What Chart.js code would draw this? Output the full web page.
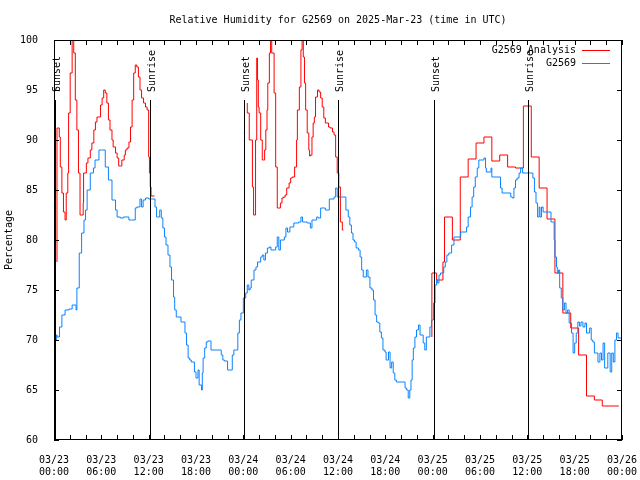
<!DOCTYPE html>
<html>
<head>
<meta charset="utf-8">
<script src="https://cdn.jsdelivr.net/npm/chart.js@4.4.1/dist/chart.umd.min.js"></script>
<style>
  html, body { margin: 0; padding: 0; background: #fff; }
  #wrap { width: 640px; height: 480px; }
</style>
</head>
<body>
<div id="wrap"><canvas id="rh-chart" width="640" height="480"></canvas></div>
<script>
// hours since 2025-03-23 00:00 UTC
const blueHours = [0.1, 0.3, 0.4, 0.7, 1.0, 1.4, 1.9, 2.3, 2.5, 2.8, 2.9, 3.2, 3.5, 3.8, 4.0, 4.2, 4.6, 5.0, 5.2, 5.7,
    6.0, 6.5, 6.9, 7.35, 7.8, 8.0, 8.4, 8.8, 9.5, 9.8, 10.3, 10.5, 10.9, 11.1, 11.3, 11.6, 12.0, 12.8, 13.0, 13.4,
    13.6, 13.8, 14.0, 14.2, 14.45, 14.7, 14.9, 15.15, 15.3, 15.5, 16.1, 16.6, 16.8, 17.0, 17.2, 17.4, 17.8, 18.0, 18.25, 18.4,
    18.7, 18.8, 18.9, 19.1, 19.3, 19.5, 19.9, 20.3, 21.2, 21.4, 21.6, 22.0, 22.3, 22.6, 22.8, 23.0, 23.3, 23.5, 23.7, 24.0,
    24.3, 24.5, 24.7, 24.85, 25.0, 25.35, 25.6, 25.8, 26.2, 26.4, 26.6, 26.8, 27.05, 27.3, 27.5, 28.1, 28.3, 28.5, 28.7, 29.2,
    29.4, 29.6, 29.9, 30.4, 31.0, 31.3, 31.5, 32.1, 32.5, 32.7, 33.3, 33.5, 33.8, 34.4, 34.9, 35.5, 35.7, 35.9, 37.0, 37.3,
    37.5, 37.7, 37.9, 38.1, 38.3, 38.6, 38.8, 39.0, 39.2, 39.6, 39.8, 40.05, 40.3, 40.5, 40.7, 40.9, 41.1, 41.3, 41.5, 41.7,
    41.95, 42.1, 42.4, 42.6, 42.8, 43.0, 43.2, 43.4, 44.5, 44.7, 44.9, 45.1, 45.25, 45.4, 45.55, 45.75, 45.95, 46.2, 46.4, 46.8,
    47.0, 47.2, 47.65, 47.85, 48.1, 48.3, 48.5, 48.6, 48.8, 49.0, 49.4, 49.6, 49.8, 50.05, 50.4, 50.7, 51.55, 52.3, 52.5, 52.8,
    53.0, 53.2, 53.4, 53.65, 53.85, 54.5, 54.7, 54.8, 55.4, 55.5, 56.6, 56.8, 57.9, 58.1, 58.3, 58.5, 58.7, 58.95, 59.15, 59.4,
    60.7, 60.9, 61.1, 61.3, 61.5, 61.6, 61.8, 62.0, 63.0, 63.4, 63.5, 63.7, 63.8, 63.95, 64.1, 64.3, 64.5, 64.7, 64.9, 65.1,
    65.3, 65.6, 65.8, 66.0, 66.2, 66.4, 66.6, 66.8, 67.05, 67.3, 67.5, 67.9, 68.1, 68.3, 68.5, 68.95, 69.2, 69.4, 69.6, 69.8,
    70.2, 70.5, 70.7, 70.9, 71.1, 71.3, 71.5, 71.75, 72.0];
const blueRH = [69.0, 70.0, 70.5, 70.3, 71.3, 72.5, 73.0, 73.1, 73.5, 73.5, 73.0, 75.2, 78.7, 80.7, 82.0, 83.0, 85.0, 86.7, 87.2, 88.0,
    89.0, 89.0, 87.3, 86.0, 84.0, 83.0, 82.3, 82.2, 82.3, 82.0, 82.0, 83.2, 83.3, 84.1, 83.3, 84.0, 84.2, 84.1, 83.3, 82.3,
    83.0, 82.2, 81.2, 80.3, 79.5, 78.5, 77.3, 76.0, 74.3, 73.0, 72.3, 71.8, 70.7, 69.5, 68.2, 68.0, 67.8, 66.8, 66.2, 67.0,
    65.5, 65.0, 66.7, 68.2, 69.2, 69.8, 69.9, 69.0, 69.0, 68.5, 68.0, 67.9, 67.0, 67.0, 68.5, 69.0, 69.0, 70.7, 72.0, 72.7,
    74.2, 74.7, 75.5, 75.0, 75.2, 76.0, 77.0, 77.3, 77.8, 78.3, 78.5, 78.0, 78.7, 79.2, 79.3, 79.0, 79.3, 80.3, 79.0, 80.0,
    80.3, 81.2, 80.8, 81.3, 81.7, 81.8, 82.3, 81.8, 81.7, 81.2, 82.0, 82.3, 82.2, 83.2, 83.0, 84.1, 84.3, 85.2, 84.3, 83.0,
    82.3, 81.5, 80.7, 80.0, 79.8, 79.2, 79.0, 78.3, 77.0, 76.3, 77.0, 76.3, 75.2, 75.0, 74.0, 72.5, 71.8, 71.7, 70.8, 70.2,
    69.0, 68.8, 68.0, 68.8, 67.2, 67.8, 66.7, 66.0, 65.8, 65.2, 65.0, 64.2, 65.0, 66.0, 68.0, 69.2, 70.3, 71.0, 71.5, 70.5,
    69.7, 69.0, 70.3, 71.3, 72.0, 73.7, 75.5, 76.0, 75.7, 76.5, 76.7, 77.3, 77.8, 78.5, 78.7, 79.5, 80.3, 80.8, 81.3, 82.3,
    83.3, 84.3, 85.3, 86.3, 87.2, 88.0, 88.2, 87.2, 86.8, 87.2, 86.3, 85.2, 84.7, 84.3, 84.2, 85.2, 86.0, 86.2, 86.7, 87.2,
    86.7, 86.2, 84.8, 83.7, 82.3, 83.3, 82.3, 83.3, 82.8, 81.8, 80.0, 78.3, 77.3, 76.7, 77.0, 75.2, 74.2, 73.0, 73.7, 72.7,
    73.0, 71.7, 70.7, 68.7, 69.7, 70.7, 71.8, 71.4, 71.8, 71.3, 71.7, 70.7, 71.2, 70.0, 69.8, 68.7, 67.8, 68.7, 68.0, 69.7,
    67.2, 68.7, 66.8, 68.7, 67.8, 70.0, 70.7, 70.2, 70.2];

// analysis series, null marks a gap
const redHours = [0.38, 0.67, 0.8, 1.0, 1.2, 1.4, 1.55, 1.75, 1.85, 2.05, 2.3, 2.5, 2.7, 2.9, 3.1, 3.3, 3.45, 3.7, 3.75, 4.1,
    4.3, 4.6, 4.8, 5.05, 5.25, 5.45, 5.9, 6.1, 6.3, 6.5, 6.7, 6.9, 7.1, 7.35, 7.5, 7.8, 8.0, 8.2, 8.4, 8.6,
    8.9, 9.05, 9.25, 9.5, 9.7, 9.9, 10.1, 10.3, 10.5, 10.7, 10.9, 11.1, 11.35, 11.6, 11.8, 12.0, 12.1, 12.2, 12.3, 12.4,
    12.75, 12.8,
    24.5, 24.75, 25.15, 25.3, 25.55, 25.7, 25.8, 25.9, 26.0, 26.2, 26.4, 26.55, 26.7, 26.85, 27.0, 27.1, 27.3, 27.45, 27.6, 27.9,
    28.1, 28.3, 28.5, 28.7, 28.9, 29.1, 29.3, 29.5, 29.8, 30.0, 30.2, 30.5, 30.75, 30.85, 31.1, 31.3, 31.45, 31.6, 31.75, 31.9,
    32.1, 32.3, 32.4, 32.5, 32.7, 32.85, 33.0, 33.15, 33.4, 33.6, 33.8, 34.0, 34.2, 34.4, 34.8, 35.0, 35.3, 35.5, 35.7, 35.9,
    36.1, 36.3, 36.55, 36.7, 36.8,
    47.9, 48.5, 49.3, 49.5, 50.5, 51.5, 52.5, 53.5, 54.5, 55.5, 56.5, 57.5, 58.5, 59.5, 60.5, 61.5, 62.5, 63.5, 64.5, 65.5,
    66.5, 67.5, 68.5, 69.5, 70.5, 71.6];
const redRH = [77.8, 91.2, 90.3, 87.3, 84.7, 82.8, 82.0, 84.7, 86.7, 92.7, 96.7, 101, 98.7, 94.0, 91.0, 86.7, 82.5, 82.5, 83.7, 86.7,
    87.7, 88.2, 89.0, 89.7, 91.0, 91.8, 92.3, 93.5, 94.2, 95.0, 94.7, 93.7, 92.0, 91.0, 90.0, 89.3, 88.7, 88.2, 87.4, 87.4,
    88.0, 88.5, 89.0, 89.2, 89.8, 91.3, 94.0, 96.7, 97.5, 97.3, 96.3, 95.0, 94.2, 93.7, 93.3, 93.0, 88.3, 86.7, 85.3, 84.4,
    84.4, null,
    93.7, 92.7, 90.0, 85.3, 82.5, 90.0, 98.2, 96.0, 93.3, 92.7, 90.0, 88.0, 88.0, 89.0, 91.0, 93.0, 95.7, 98.7, 101, 98.7,
    94.7, 87.3, 83.2, 83.2, 83.7, 84.2, 84.3, 84.5, 85.2, 85.7, 86.2, 86.3, 87.3, 90.0, 93.0, 95.3, 99.0, 101, 98.3, 95.7,
    93.0, 90.7, 89.0, 88.4, 88.5, 90.3, 91.7, 92.3, 94.3, 95.0, 94.8, 94.2, 93.3, 92.2, 91.7, 91.3, 91.2, 90.8, 90.5, 88.3,
    86.7, 85.3, 81.8, 81.0, null,
    70.3, 76.7, 76.0, 77.8, 82.3, 80.0, 86.3, 88.1, 89.7, 90.3, 87.9, 88.5, 87.3, 87.2, 93.4, 88.3, 85.2, 82.1, 76.7, 72.7,
    71.2, 68.5, 64.4, 64.0, 63.4, 63.4];

const sunHours = [0.13, 12.13, 24.08, 36.04, 48.17, 60.12];
const sunLabels = ['Sunset', 'Sunrise', 'Sunset', 'Sunrise', 'Sunset', 'Sunrise'];

const xTickDates = ['03/23', '03/23', '03/23', '03/23', '03/24', '03/24', '03/24', '03/24', '03/25', '03/25', '03/25', '03/25', '03/26'];
const xTickTimes = ['00:00', '06:00', '12:00', '18:00', '00:00', '06:00', '12:00', '18:00', '00:00', '06:00', '12:00', '18:00', '00:00'];

const FONT = "'DejaVu Sans Mono', 'Liberation Mono', monospace";

function toPoints(xs, ys) {
    return xs.map((x, i) => ({ x: x, y: ys[i] }));
}

// frame, inward tick marks, sunrise/sunset markers and the legend
const plotDecor = {
    id: 'plotDecor',
    afterDatasetsDraw(chart) {
        const { ctx, chartArea: a, scales: { x, y } } = chart;
        ctx.save();
        ctx.strokeStyle = '#000';
        ctx.lineWidth = 1;

        // sunrise / sunset lines
        ctx.fillStyle = '#000';
        ctx.font = '10px ' + FONT;
        sunHours.forEach((h, i) => {
            const px = Math.round(x.getPixelForValue(h)) + 0.5;
            ctx.beginPath();
            ctx.moveTo(px, a.top + 60);
            ctx.lineTo(px, a.bottom);
            ctx.stroke();
            ctx.save();
            ctx.translate(px + 2, a.top + 52);
            ctx.rotate(-Math.PI / 2);
            ctx.textAlign = 'left';
            ctx.textBaseline = 'middle';
            ctx.fillText(sunLabels[i], 0, 0);
            ctx.restore();
        });

        // frame
        ctx.strokeRect(Math.round(a.left) + 0.5, Math.round(a.top) + 0.5,
            Math.round(a.width) - 1, Math.round(a.height) - 1);

        // ticks
        ctx.beginPath();
        for (let h = x.min; h <= x.max; h += 2) {
            const px = Math.round(x.getPixelForValue(h)) + 0.5;
            ctx.moveTo(px, a.bottom); ctx.lineTo(px, a.bottom - 5);
            ctx.moveTo(px, a.top); ctx.lineTo(px, a.top + 5);
        }
        for (let v = y.min; v <= y.max; v += 5) {
            const py = Math.round(y.getPixelForValue(v)) + 0.5;
            ctx.moveTo(a.left, py); ctx.lineTo(a.left + 5, py);
            ctx.moveTo(a.right, py); ctx.lineTo(a.right - 5, py);
        }
        ctx.stroke();

        // legend: label text then a line sample
        ctx.font = '10px ' + FONT;
        ctx.textAlign = 'right';
        ctx.textBaseline = 'middle';
        chart.data.datasets.forEach((ds, i) => {
            const ly = Math.round(a.top + 10 + i * 12.5) + 0.5;
            ctx.fillStyle = '#000';
            ctx.fillText(ds.label, a.right - 46, ly);
            ctx.strokeStyle = ds.borderColor;
            ctx.beginPath();
            ctx.moveTo(a.right - 40, ly);
            ctx.lineTo(a.right - 12, ly);
            ctx.stroke();
        });
        ctx.restore();
    }
};

new Chart(document.getElementById('rh-chart'), {
    type: 'line',
    data: {
        datasets: [{
            label: 'G2569 Analysis',
            data: toPoints(redHours, redRH),
            borderColor: '#ff0000',
            borderWidth: 1,
            stepped: 'after',
            pointRadius: 0,
            spanGaps: false,
            order: 1
        }, {
            label: 'G2569',
            data: toPoints(blueHours, blueRH),
            borderColor: '#0a84ff',
            borderWidth: 1,
            stepped: 'after',
            pointRadius: 0,
            order: 0
        }]
    },
    options: {
        responsive: false,
        animation: false,
        layout: { padding: { left: 0, right: 18, top: 0, bottom: 0 } },
        scales: {
            x: {
                type: 'linear',
                min: 0,
                max: 72,
                afterFit: (s) => {
                    s.height = 40;
                    s.paddingLeft = 0;
                    s.paddingRight = 0;
                },
                grid: { display: false },
                border: { display: false },
                ticks: {
                    stepSize: 6,
                    padding: 6,
                    maxRotation: 0,
                    autoSkip: false,
                    color: '#000',
                    font: { family: FONT, size: 10 },
                    callback: (v) => {
                        const i = Math.round(v / 6);
                        return [xTickDates[i], xTickTimes[i]];
                    }
                }
            },
            y: {
                min: 60,
                max: 100,
                afterFit: (s) => { s.width = 54; },
                grid: { display: false },
                border: { display: false },
                ticks: {
                    stepSize: 5,
                    padding: 8,
                    color: '#000',
                    font: { family: FONT, size: 10 }
                },
                title: {
                    display: true,
                    text: 'Percentage',
                    color: '#000',
                    padding: 3,
                    font: { family: FONT, size: 10 }
                }
            }
        },
        plugins: {
            legend: { display: false },
            tooltip: { enabled: false },
            title: {
                display: true,
                text: 'Relative Humidity for G2569 on 2025-Mar-23 (time in UTC)',
                color: '#000',
                fullSize: false,
                font: { family: FONT, size: 10, weight: 'normal' },
                padding: { top: 14, bottom: 14 }
            }
        }
    },
    plugins: [plotDecor]
});
</script>
</body>
</html>
